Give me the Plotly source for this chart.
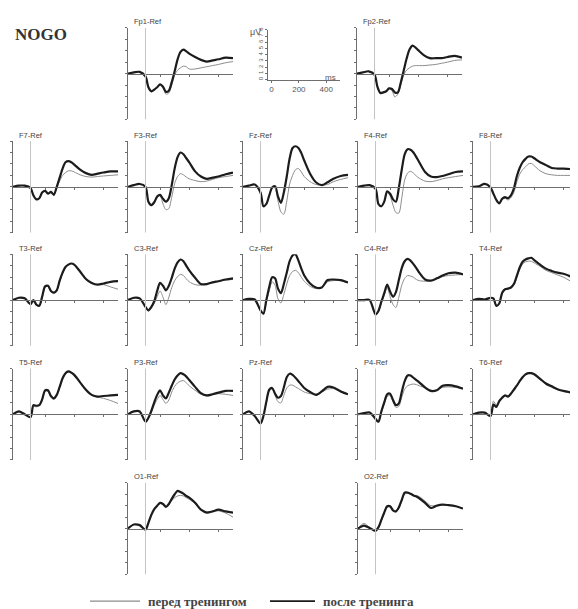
import plotly.graph_objects as go

# ---------------- DATA ----------------
TIME_MS = [-120, -80, -40, 0, 20, 40, 60, 80, 100, 120, 140, 160, 180, 200,
           220, 240, 260, 280, 300, 340, 380, 420, 460, 500, 550, 600]

FP1_BEFORE = [0, 0.2, 0.3, -0.5, -2.5, -3.2, -2.9, -2.5, -2.0, -2.5, -3.6, -3.4, -2.0, -0.3, 0.6, 1.0, 1.3, 1.2, 0.8, 0.8, 1.0, 1.2, 1.4, 1.6, 1.9, 2.1]
FP1_AFTER = [0, 0.2, 0.3, -0.5, -2.4, -3.1, -2.8, -2.4, -1.9, -2.3, -3.2, -3.0, -1.5, 0.4, 2.5, 3.8, 4.2, 3.9, 3.5, 2.9, 2.4, 2.1, 2.3, 2.5, 2.8, 2.7]
FP2_BEFORE = [0, 0.2, 0.4, -0.2, -2.4, -3.5, -3.4, -3.1, -2.6, -3.0, -4.1, -3.6, -2.0, -0.3, 0.6, 1.0, 1.3, 1.4, 1.4, 1.4, 1.5, 1.6, 1.8, 2.0, 2.3, 2.4]
FP2_AFTER = [0, 0.2, 0.4, -0.2, -2.3, -3.4, -3.3, -3.1, -2.6, -2.7, -3.3, -3.3, -1.6, 0.5, 2.6, 4.2, 4.9, 4.6, 4.1, 3.2, 2.7, 2.7, 2.7, 2.9, 3.1, 2.8]
F7_BEFORE = [0, 0.2, 0.2, -0.2, -1.5, -2.2, -2.0, -1.0, -0.7, -1.2, -0.9, -1.4, -0.2, 1.0, 2.0, 2.5, 2.8, 2.8, 2.6, 2.1, 1.8, 1.7, 1.8, 1.9, 2.0, 2.1]
F7_AFTER = [0, 0.2, 0.2, -0.2, -1.5, -2.2, -2.0, -1.0, -0.7, -1.2, -0.9, -1.4, 0.0, 1.6, 3.2, 4.3, 4.5, 4.3, 3.9, 3.0, 2.4, 2.1, 2.3, 2.5, 2.7, 2.7]
F3_BEFORE = [0, 0.3, 0.5, 0.0, -2.6, -3.3, -2.8, -1.8, -1.6, -3.0, -4.0, -3.8, -1.8, 0.6, 1.8, 2.3, 2.1, 1.7, 1.4, 1.1, 0.9, 1.0, 1.3, 1.6, 1.8, 2.0]
F3_AFTER = [0, 0.3, 0.5, 0.0, -2.6, -3.2, -2.7, -1.7, -1.4, -2.1, -2.6, -2.0, 0.3, 3.2, 5.2, 6.0, 5.7, 5.0, 4.3, 2.7, 1.8, 1.4, 1.6, 1.8, 2.2, 2.5]
FZ_BEFORE = [0, 0.2, 0.4, -1.0, -3.4, -3.1, -1.6, -0.2, -0.2, -2.5, -4.4, -4.8, -2.5, 0.5, 2.0, 3.0, 3.2, 2.6, 1.8, 0.9, 0.4, 0.3, 0.4, 0.9, 1.3, 1.6]
FZ_AFTER = [0, 0.2, 0.4, -1.0, -3.4, -3.0, -1.5, -0.1, 0.1, -1.7, -2.8, -1.0, 1.8, 5.0, 6.8, 7.1, 6.8, 5.9, 4.6, 2.3, 0.8, 0.3, 0.8, 1.4, 1.9, 2.1]
F4_BEFORE = [0, 0.2, 0.3, -0.3, -3.0, -3.5, -2.7, -1.0, -1.6, -3.2, -4.5, -4.6, -2.0, 1.2, 2.4, 2.7, 2.4, 1.9, 1.5, 1.0, 0.9, 1.1, 1.4, 1.6, 1.8, 2.0]
F4_AFTER = [0, 0.2, 0.3, -0.3, -3.0, -3.4, -2.6, -0.8, -1.2, -2.2, -2.6, -0.2, 3.0, 5.7, 6.6, 6.5, 6.0, 5.2, 4.3, 2.6, 1.8, 1.7, 1.9, 2.2, 2.6, 2.7]
F8_BEFORE = [0, 0.1, 0.5, -0.1, -1.2, -2.3, -2.9, -2.2, -2.0, -2.3, -1.9, -1.0, 0.8, 2.2, 3.0, 3.5, 4.0, 4.1, 3.7, 2.8, 2.3, 2.1, 2.0, 2.0, 2.0, 2.0]
F8_AFTER = [0, 0.1, 0.5, -0.1, -1.2, -2.3, -2.9, -2.1, -1.8, -2.0, -1.5, -0.3, 1.8, 3.3, 4.3, 4.9, 5.3, 5.3, 5.0, 4.3, 3.8, 3.3, 3.2, 3.2, 3.1, 2.7]
T3_BEFORE = [0, 0.4, 0.3, -0.6, -0.1, -0.9, -1.1, 0.4, 2.2, 2.4, 1.5, 1.2, 1.6, 3.2, 4.6, 5.7, 6.2, 6.4, 6.1, 4.9, 3.6, 2.9, 2.7, 2.7, 2.3, 1.9]
T3_AFTER = [0, 0.4, 0.3, -0.7, 0.0, -0.8, -1.0, 0.6, 2.4, 2.5, 1.6, 1.3, 1.7, 3.4, 4.8, 5.8, 6.2, 6.4, 6.2, 5.0, 3.7, 3.0, 2.7, 2.9, 3.2, 3.3]
C3_BEFORE = [0, 0.4, 0.3, -1.2, -1.9, -1.4, -0.6, 0.6, 1.6, 0.5, -0.8, 0.5, 2.2, 3.4, 4.1, 4.5, 4.3, 3.7, 3.2, 2.7, 2.6, 2.9, 3.1, 3.3, 3.5, 3.6]
C3_AFTER = [0, 0.4, 0.3, -1.2, -1.8, -1.2, -0.2, 1.6, 3.0, 2.5, 1.7, 2.5, 3.9, 5.5, 6.6, 7.1, 6.8, 6.0, 5.2, 3.9, 2.8, 2.8, 3.1, 3.3, 3.6, 3.8]
CZ_BEFORE = [0, 0.2, 0.1, -1.8, -2.5, -0.4, 1.6, 3.2, 2.6, 0.2, -0.5, 1.0, 2.8, 4.3, 5.0, 5.2, 4.8, 4.0, 3.3, 2.4, 2.0, 2.2, 3.2, 3.4, 3.4, 3.0]
CZ_AFTER = [0, 0.2, 0.1, -1.8, -2.4, 0.0, 2.3, 4.0, 3.8, 2.0, 1.2, 2.8, 4.8, 6.8, 7.8, 8.0, 6.9, 5.5, 4.3, 2.9, 2.2, 2.2, 3.5, 3.6, 3.5, 3.1]
C4_BEFORE = [0, 0.0, 0.0, -2.5, -2.0, -0.5, 0.8, 2.2, 0.6, -0.8, -1.3, 0.5, 2.6, 3.8, 4.3, 4.2, 4.0, 3.6, 3.4, 3.3, 3.4, 3.7, 4.1, 4.3, 4.4, 4.5]
C4_AFTER = [0, 0.0, 0.0, -2.5, -1.9, -0.3, 1.2, 2.7, 1.5, 0.6, 1.4, 3.5, 5.6, 6.8, 7.2, 6.9, 6.3, 5.6, 4.8, 3.6, 3.4, 3.8, 4.3, 4.7, 4.8, 4.5]
T4_BEFORE = [0, 0.2, 0.1, 0.4, 0.2, -1.1, -0.7, 1.1, 1.8, 2.0, 2.1, 2.6, 3.9, 5.3, 6.3, 6.7, 6.8, 6.8, 6.5, 5.9, 5.2, 4.8, 4.4, 4.0, 3.3, 2.5]
T4_AFTER = [0, 0.2, 0.1, 0.4, 0.3, -1.0, -0.6, 1.3, 1.9, 2.0, 2.2, 2.8, 4.2, 5.7, 6.7, 7.1, 7.3, 7.4, 7.0, 6.2, 5.5, 5.1, 4.8, 4.6, 4.1, 3.4]
T5_BEFORE = [0, 0.5, 0.0, -0.5, 1.4, 1.3, 1.5, 2.4, 4.0, 4.0, 3.0, 2.6, 3.3, 4.7, 6.2, 7.1, 7.4, 7.2, 6.8, 5.5, 4.2, 3.3, 3.0, 2.8, 2.4, 1.9]
T5_AFTER = [0, 0.5, 0.0, -0.5, 1.6, 1.5, 1.6, 2.6, 4.2, 4.2, 3.2, 2.8, 3.4, 4.8, 6.3, 7.2, 7.5, 7.3, 6.9, 5.6, 4.3, 3.4, 3.1, 3.2, 3.3, 3.4]
P3_BEFORE = [0, 0.5, 0.5, -1.3, -0.7, 0.3, 1.6, 2.6, 3.3, 2.6, 1.9, 2.5, 3.9, 4.9, 5.5, 5.8, 5.9, 5.5, 5.0, 4.2, 3.5, 3.2, 3.5, 3.6, 3.5, 3.3]
P3_AFTER = [0, 0.5, 0.5, -1.3, -0.6, 0.6, 2.1, 3.4, 4.2, 3.3, 2.8, 3.8, 5.0, 6.1, 6.8, 7.2, 7.0, 6.6, 6.0, 4.8, 3.7, 3.3, 3.5, 3.8, 4.1, 4.1]
PZ_BEFORE = [0, 0.5, -0.3, -1.6, -0.4, 2.0, 4.1, 4.4, 3.3, 2.2, 2.0, 3.3, 4.6, 5.1, 5.1, 4.8, 4.5, 4.2, 3.9, 3.6, 3.5, 3.9, 4.4, 4.5, 4.1, 3.6]
PZ_AFTER = [0, 0.5, -0.3, -1.6, -0.3, 2.2, 4.3, 4.6, 3.6, 2.9, 3.2, 4.7, 6.5, 7.1, 6.9, 6.4, 5.8, 5.2, 4.6, 3.9, 3.4, 4.0, 4.8, 4.7, 4.0, 3.5]
P4_BEFORE = [0, 0.2, 0.3, -0.8, -1.3, 0.3, 1.8, 3.1, 3.3, 2.2, 1.2, 1.4, 3.0, 4.4, 5.0, 5.2, 5.3, 5.2, 5.0, 4.6, 4.2, 4.2, 4.7, 4.8, 4.7, 4.5]
P4_AFTER = [0, 0.2, 0.3, -0.8, -1.3, 0.5, 2.1, 3.5, 3.6, 2.5, 1.6, 1.9, 3.9, 5.8, 6.8, 6.8, 6.4, 6.0, 5.6, 4.7, 4.1, 4.2, 5.0, 5.1, 4.9, 4.5]
T6_BEFORE = [0, 0.3, 0.3, -0.3, 2.3, 1.6, 2.4, 3.0, 3.3, 3.2, 3.7, 4.3, 5.0, 5.8, 6.5, 7.0, 7.2, 7.1, 6.9, 6.1, 5.2, 4.7, 4.3, 4.0, 3.7, 3.1]
T6_AFTER = [0, 0.3, 0.3, -0.3, 1.7, 1.3, 2.3, 2.9, 3.3, 3.1, 3.6, 4.3, 5.0, 5.8, 6.5, 7.0, 7.2, 7.2, 7.0, 6.2, 5.4, 4.9, 4.4, 4.1, 3.8, 3.0]
O1_BEFORE = [0, 0.7, 0.6, -0.2, 1.0, 2.3, 3.3, 3.9, 4.4, 4.2, 3.8, 4.2, 4.9, 5.4, 5.7, 5.8, 5.7, 5.4, 5.1, 4.4, 3.4, 2.9, 3.0, 3.1, 2.7, 2.0]
O1_AFTER = [0, 0.7, 0.6, -0.2, 1.0, 2.4, 3.4, 4.0, 4.5, 4.3, 3.8, 4.3, 5.2, 6.0, 6.6, 6.4, 6.1, 5.7, 5.4, 4.5, 3.3, 2.8, 3.0, 3.3, 3.0, 2.8]
O2_BEFORE = [0, 0.9, 0.2, -0.3, 0.3, 1.4, 2.7, 3.7, 3.8, 3.1, 2.9, 3.5, 4.8, 6.0, 6.2, 6.0, 5.8, 5.8, 5.6, 4.8, 4.0, 4.1, 4.2, 4.1, 3.9, 3.5]
O2_AFTER = [0, 0.5, 0.1, -0.4, 0.2, 1.5, 2.8, 3.9, 3.9, 3.2, 3.0, 3.7, 5.0, 6.3, 6.3, 6.1, 5.8, 5.6, 5.3, 4.5, 3.6, 4.0, 4.2, 4.1, 3.9, 3.5]

ELECTRODES = ["Fp1", "Fp2", "F7", "F3", "Fz", "F4", "F8", "T3", "C3", "Cz",
              "C4", "T4", "T5", "P3", "Pz", "P4", "T6", "O1", "O2"]
BEFORE = [FP1_BEFORE, FP2_BEFORE, F7_BEFORE, F3_BEFORE, FZ_BEFORE, F4_BEFORE, F8_BEFORE,
          T3_BEFORE, C3_BEFORE, CZ_BEFORE, C4_BEFORE, T4_BEFORE, T5_BEFORE, P3_BEFORE,
          PZ_BEFORE, P4_BEFORE, T6_BEFORE, O1_BEFORE, O2_BEFORE]
AFTER = [FP1_AFTER, FP2_AFTER, F7_AFTER, F3_AFTER, FZ_AFTER, F4_AFTER, F8_AFTER,
         T3_AFTER, C3_AFTER, CZ_AFTER, C4_AFTER, T4_AFTER, T5_AFTER, P3_AFTER,
         PZ_AFTER, P4_AFTER, T6_AFTER, O1_AFTER, O2_AFTER]

LEGEND_LABELS = ["перед тренингом", "после тренинга"]
TITLE_TEXT = "NOGO"
SCALE_X_TICKS = [0, 200, 400]
SCALE_Y_TICKS = [0, 1, 2, 3, 4, 5, 6, 7, 8]
PANEL_X_TICKS = [100, 300, 500]
PANEL_Y_TICKS = [-8, -6, -4, -2, 0, 2, 4, 6, 8]

# ---------------- LAYOUT (window pixels) ----------------
WIN_W, WIN_H = 578, 609
OFF = 8                       # default page body margin
W, H = WIN_W - OFF, WIN_H - OFF   # figure size


def px(xw):
    return (xw - OFF) / W


def py(yw):
    return 1 - (yw - OFF) / H


PANEL_W, HALF_H = 105, 46
COL_X = [13, 128, 243, 358, 473]
ROW_ZERO = [71, 185, 299, 414, 529]
GRID = {"Fp1": (1, 0), "Fp2": (3, 0),
        "F7": (0, 1), "F3": (1, 1), "Fz": (2, 1), "F4": (3, 1), "F8": (4, 1),
        "T3": (0, 2), "C3": (1, 2), "Cz": (2, 2), "C4": (3, 2), "T4": (4, 2),
        "T5": (0, 3), "P3": (1, 3), "Pz": (2, 3), "P4": (3, 3), "T6": (4, 3),
        "O1": (1, 4), "O2": (3, 4)}

AX_COL = "#6e6e6e"
ONSET_COL = "#c4c4c4"
BEFORE_COL = "#8c8c8c"
AFTER_COL = "#1c1c1c"
LABEL_FONT = dict(family="Liberation Sans Narrow, Liberation Sans, Arial", size=7.5, color="#444")

fig = go.Figure()
layout = dict(width=W, height=H, margin=dict(l=0, r=0, t=0, b=0),
              paper_bgcolor="white", plot_bgcolor="white", showlegend=False)
shapes = []
annotations = []

for i, name in enumerate(ELECTRODES, start=1):
    col, row = GRID[name]
    x0 = COL_X[col] + (-1 if name == "Fp2" else 0)
    z = ROW_ZERO[row]
    sfx = "" if i == 1 else str(i)
    layout["xaxis" + sfx] = dict(
        domain=[max(0.0, px(x0)), min(1.0, px(x0 + PANEL_W))], range=[-120, 600],
        anchor="free", position=py(z),
        showline=True, linecolor=AX_COL, linewidth=1,
        ticks="outside", tickvals=PANEL_X_TICKS, ticklen=2, tickcolor=AX_COL,
        showticklabels=False, showgrid=False, zeroline=False, fixedrange=True)
    layout["yaxis" + sfx] = dict(
        domain=[py(z + HALF_H), py(z - HALF_H)], range=[-8, 8],
        anchor="x" + sfx, showline=True, linecolor=AX_COL, linewidth=1,
        ticks="outside", tickvals=PANEL_Y_TICKS, ticklen=2, tickcolor=AX_COL,
        showticklabels=False, showgrid=False, zeroline=False, fixedrange=True)
    shapes.append(dict(type="line", xref="x" + sfx, yref="y" + sfx + " domain",
                       x0=0, x1=0, y0=0, y1=1, line=dict(color=ONSET_COL, width=1)))
    fig.add_trace(go.Scatter(x=TIME_MS, y=BEFORE[i - 1], mode="lines",
                             xaxis="x" + sfx, yaxis="y" + sfx, hoverinfo="skip",
                             line=dict(color=BEFORE_COL, width=1, shape="spline", smoothing=0.8)))
    fig.add_trace(go.Scatter(x=TIME_MS, y=AFTER[i - 1], mode="lines",
                             xaxis="x" + sfx, yaxis="y" + sfx, hoverinfo="skip",
                             line=dict(color=AFTER_COL, width=2.2, shape="spline", smoothing=0.8)))
    annotations.append(dict(text=name + "-Ref", xref="paper", yref="paper",
                            x=px(x0 + 4), y=py(z - 52), xanchor="left", yanchor="middle",
                            showarrow=False, font=LABEL_FONT))

# scale panel
si = len(ELECTRODES) + 1
layout["xaxis%d" % si] = dict(
    domain=[px(268), px(340)], range=[-25, 500], anchor="y%d" % si,
    showline=True, linecolor=AX_COL, ticks="outside", tickvals=SCALE_X_TICKS,
    ticklen=2, tickcolor=AX_COL, tickfont=dict(family="Liberation Sans", size=8, color="#555"),
    showgrid=False, zeroline=False, fixedrange=True)
layout["yaxis%d" % si] = dict(
    domain=[py(77), py(27)], range=[0, 8], anchor="x%d" % si,
    showline=True, linecolor=AX_COL, ticks="outside", tickvals=SCALE_Y_TICKS,
    ticklen=2, tickcolor=AX_COL, tickangle=-90,
    tickfont=dict(family="Liberation Sans", size=6, color="#555"),
    showgrid=False, zeroline=False, fixedrange=True)
fig.add_trace(go.Scatter(x=[None], y=[None], xaxis="x%d" % si, yaxis="y%d" % si,
                         mode="lines", hoverinfo="skip"))
annotations.append(dict(text="μV", xref="paper", yref="paper", x=px(255), y=py(22),
                        showarrow=False, font=dict(family="Liberation Sans", size=9, color="#555")))
annotations.append(dict(text="ms", xref="paper", yref="paper", x=px(330), y=py(68),
                        showarrow=False, font=dict(family="Liberation Sans", size=8, color="#555")))

# title
annotations.append(dict(text="<b>" + TITLE_TEXT + "</b>", xref="paper", yref="paper",
                        x=px(13), y=py(32), xanchor="left", yanchor="middle", showarrow=False,
                        font=dict(family="Liberation Serif", size=17, color="#333")))

# legend
leg_y = py(602)
shapes.append(dict(type="line", xref="paper", yref="paper", x0=px(90), x1=px(140),
                   y0=leg_y, y1=leg_y, line=dict(color=BEFORE_COL, width=1.2)))
shapes.append(dict(type="line", xref="paper", yref="paper", x0=px(270), x1=px(315),
                   y0=leg_y, y1=leg_y, line=dict(color=AFTER_COL, width=1.8)))
annotations.append(dict(text="<b>" + LEGEND_LABELS[0] + "</b>", xref="paper", yref="paper",
                        x=px(146), y=leg_y, xanchor="left", yanchor="middle", showarrow=False,
                        font=dict(family="Liberation Serif", size=13, color="#444")))
annotations.append(dict(text="<b>" + LEGEND_LABELS[1] + "</b>", xref="paper", yref="paper",
                        x=px(321), y=leg_y, xanchor="left", yanchor="middle", showarrow=False,
                        font=dict(family="Liberation Serif", size=13, color="#444")))

layout["shapes"] = shapes
layout["annotations"] = annotations
fig.update_layout(**layout)
fig.write_html("out.html")
